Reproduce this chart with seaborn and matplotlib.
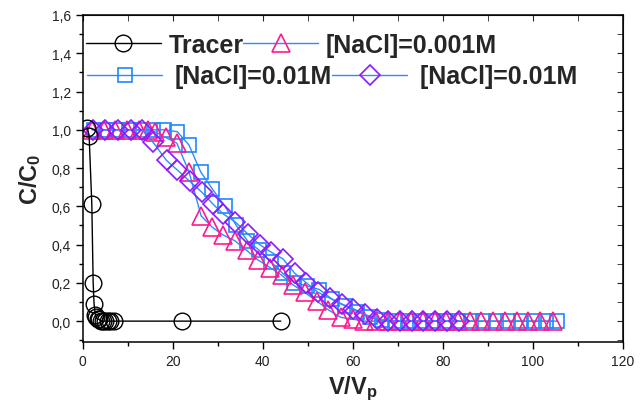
import numpy as np
import pandas as pd
import seaborn as sns
import matplotlib.pyplot as plt
from matplotlib.ticker import MultipleLocator, FuncFormatter

# dados
tracer_x = [1.0, 1.4, 2.0, 2.3, 2.5, 2.8, 3.0, 3.3, 3.6, 4.0, 4.5, 5.0, 5.5, 6.0, 7.0, 22.0, 44.0]
tracer_y = [1.01, 0.97, 0.61, 0.20, 0.09, 0.03, 0.02, 0.01, 0.01, 0.0, 0.0, 0.0, 0.0, 0.0, 0.0, 0.0, 0.0]

tri_x = [2.0, 4.6, 7.2, 9.8, 12.4, 14.5, 16.0, 18.4, 20.9, 23.6, 26.3, 28.8, 31.2, 33.8, 36.4,
         38.9, 41.6, 44.2, 46.7, 49.3, 52.0, 54.5, 57.3, 60.0, 62.6, 65.2, 67.8, 70.4, 73.0,
         75.6, 78.2, 80.8, 83.4, 86.0, 88.6, 91.2, 93.8, 96.4, 99.0, 101.6, 104.5]
tri_y = [1.0, 1.0, 1.0, 1.0, 1.0, 1.0, 0.99, 0.96, 0.93, 0.78, 0.55, 0.49, 0.45, 0.42, 0.37,
         0.32, 0.28, 0.24, 0.19, 0.15, 0.105, 0.06, 0.02, 0.01, 0.0, 0.0, 0.0, 0.0, 0.0,
         0.0, 0.0, 0.0, 0.0, 0.0, 0.0, 0.0, 0.0, 0.0, 0.0, 0.0, 0.0]

sq_x = [2.5, 5.1, 7.7, 10.3, 12.9, 15.5, 18.1, 21.0, 23.6, 26.2, 28.8, 31.6, 34.1, 36.6, 39.2,
        41.8, 44.4, 47.0, 49.8, 52.6, 55.4, 58.2, 61.0, 63.8, 66.6, 69.4, 72.2, 75.0, 77.8,
        80.6, 83.4, 86.2, 89.0, 91.8, 94.6, 97.4, 100.2, 103.0, 105.5]
sq_y = [1.0, 1.0, 1.0, 1.0, 1.0, 1.0, 1.0, 0.99, 0.92, 0.78, 0.69, 0.60, 0.50, 0.42, 0.37,
        0.31, 0.25, 0.20, 0.185, 0.165, 0.115, 0.08, 0.05, 0.02, 0.005, 0.0, 0.0, 0.0, 0.0,
        0.0, 0.0, 0.0, 0.0, 0.0, 0.0, 0.0, 0.0, 0.0, 0.0]

dia_x = [2.3, 5.0, 7.8, 10.6, 13.2, 15.6, 18.6, 21.0, 23.8, 26.4, 29.0, 31.2, 33.8, 36.7,
         39.3, 41.9, 44.5, 47.1, 49.7, 52.3, 54.9, 57.5, 60.1, 62.7, 65.3, 67.9, 70.5, 73.1,
         75.7, 78.3, 80.9, 83.6]
dia_y = [1.0, 1.0, 1.0, 1.0, 1.0, 0.935, 0.84, 0.79, 0.73, 0.675, 0.61, 0.56, 0.52, 0.455,
         0.40, 0.36, 0.325, 0.25, 0.20, 0.15, 0.12, 0.09, 0.065, 0.035, 0.01, 0.0, 0.0, 0.0,
         0.0, 0.0, 0.0, 0.0]

sns.set_style("ticks")
plt.rcParams["font.family"] = ["Liberation Sans", "DejaVu Sans"]
plt.rcParams["mathtext.fontset"] = "custom"
plt.rcParams["mathtext.bf"] = "Liberation Sans:bold"
plt.rcParams["mathtext.rm"] = "Liberation Sans"

fig = plt.figure(figsize=(6.42, 4.10), dpi=100)
ax = fig.add_axes([0.129, 0.163, 0.841, 0.798])

linha_azul = "#2b8cff"
ms = 11

# ordem de desenho: quadrados, triângulos, losangos, traçador
sns.lineplot(x=sq_x, y=sq_y, ax=ax, sort=False, estimator=None, color=linha_azul, lw=1,
             marker="s", markersize=ms - 0.5, markerfacecolor="none", markeredgecolor="#1e88ff",
             markeredgewidth=1.2, label="[NaCl]=0.01M")
sns.lineplot(x=tri_x, y=tri_y, ax=ax, sort=False, estimator=None, color=linha_azul, lw=1,
             marker="^", markersize=ms + 1.5, markerfacecolor="none", markeredgecolor="#ff1a8c",
             markeredgewidth=1.2, label="[NaCl]=0.001M")
sns.lineplot(x=dia_x, y=dia_y, ax=ax, sort=False, estimator=None, color=linha_azul, lw=1,
             marker="D", markersize=ms - 1, markerfacecolor="none", markeredgecolor="#8b1aff",
             markeredgewidth=1.2, label="[NaCl]=0.01M ")
sns.lineplot(x=tracer_x, y=tracer_y, ax=ax, sort=False, estimator=None, color="black", lw=1,
             marker="o", markersize=ms + 1, markerfacecolor="none", markeredgecolor="black",
             markeredgewidth=1.0, label="Tracer")

h, l = ax.get_legend_handles_labels()
ax.get_legend().remove()
prop = {"weight": "bold", "size": 18}
leg1 = ax.legend([h[3], h[1]], [l[3], l[1]], ncol=2, loc="upper left", frameon=False,
                 bbox_to_anchor=(-0.013, 0.975), prop=prop, handlelength=3.0,
                 handletextpad=0.3, columnspacing=0.0, borderaxespad=0)
ax.add_artist(leg1)
ax.legend([h[0], h[2]], [l[0], l[2]], ncol=2, loc="upper left", frameon=False,
          bbox_to_anchor=(-0.01, 0.88), prop=prop, handlelength=3.0,
          handletextpad=0.5, columnspacing=0.0, borderaxespad=0)

ax.set_xlim(0, 120)
ax.set_ylim(-0.11, 1.6)
ax.xaxis.set_major_locator(MultipleLocator(20))
ax.xaxis.set_minor_locator(MultipleLocator(10))
ax.yaxis.set_major_locator(MultipleLocator(0.2))
ax.yaxis.set_minor_locator(MultipleLocator(0.1))
ax.yaxis.set_major_formatter(FuncFormatter(lambda v, p: f"{v:.1f}".replace(".", ",")))

ax.tick_params(which="both", direction="out", labelsize=10, width=1, color="black",
               labelcolor="#222222")
ax.tick_params(which="major", length=5)
ax.tick_params(which="minor", length=3)
sec_x = ax.secondary_xaxis("top")
sec_x.xaxis.set_major_locator(MultipleLocator(20))
sec_x.xaxis.set_minor_locator(MultipleLocator(10))
sec_x.tick_params(which="both", direction="in", labeltop=False, length=4)
sec_y = ax.secondary_yaxis("right")
sec_y.yaxis.set_major_locator(MultipleLocator(0.2))
sec_y.yaxis.set_minor_locator(MultipleLocator(0.1))
sec_y.tick_params(which="both", direction="in", labelright=False, length=4)
for s in ax.spines.values():
    s.set_visible(True)
    s.set_color("black")
    s.set_linewidth(1.1)

ax.set_xlabel(r"$\mathbf{V/V_p}$", fontsize=17, labelpad=4)
ax.set_ylabel(r"$\mathbf{C/C_0}$", fontsize=17, labelpad=6)

fig.savefig("out.png", dpi=100)
